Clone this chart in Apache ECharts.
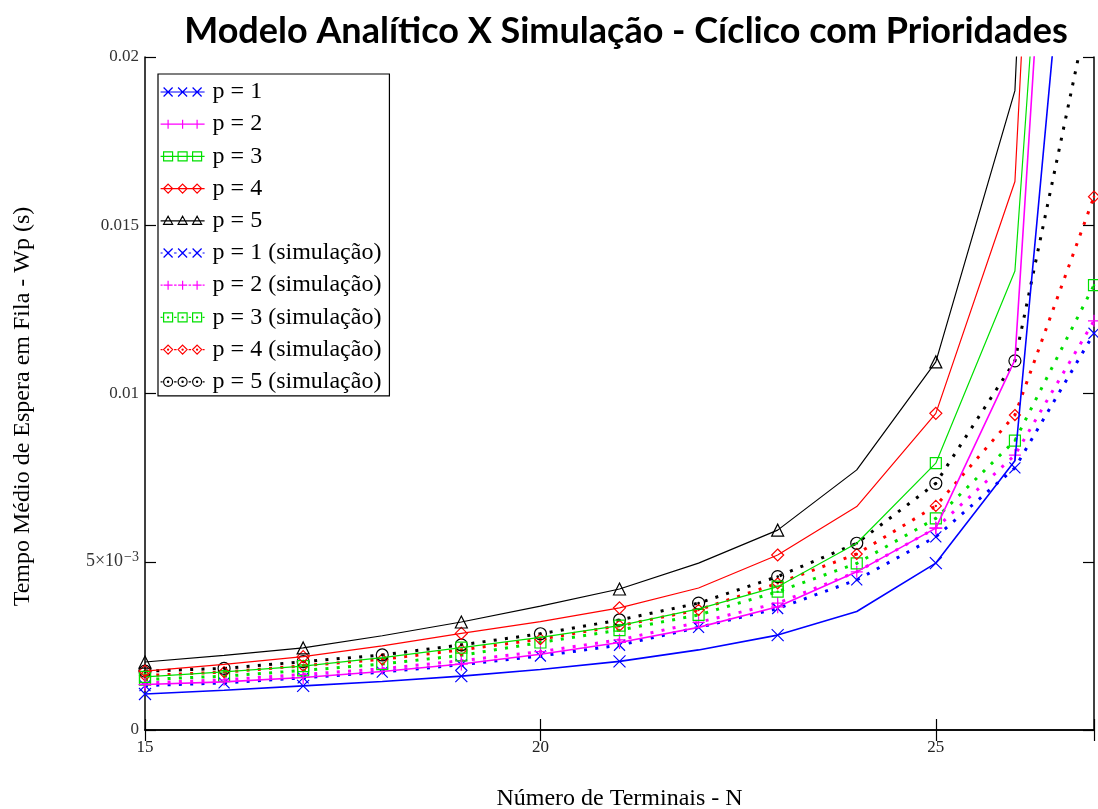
<!DOCTYPE html>
<html>
<head>
<meta charset="utf-8">
<script src="https://cdn.jsdelivr.net/npm/echarts@6/dist/echarts.min.js"></script>
<style>
html,body{margin:0;padding:0;background:#fff;overflow:hidden;}
#chart{width:1098px;height:809px;}
</style>
</head>
<body>
<div id="chart"></div>
<script>
// ---- data ----
const N = [15,16,17,18,19,20,21,22,23,24,25,26,27];
const xTicks = [15,20,25];
const yTicks = [0,0.005,0.01,0.015,0.02];

const analP1 = [0.00107,0.00118,0.00131,0.00144,0.00160,0.00180,0.00204,0.00238,0.00282,0.00352,0.00496,0.00800,0.0335];
const analP2 = [0.00135,0.00143,0.00156,0.00174,0.00196,0.00225,0.00260,0.00305,0.00366,0.00470,0.00600,0.01100,0.048];
const analP3 = [0.00158,0.00173,0.00190,0.00215,0.00245,0.00275,0.00310,0.00360,0.00426,0.00555,0.00793,0.01364,0.047];
const analP4 = [0.00175,0.00195,0.00218,0.00250,0.00287,0.00322,0.00363,0.00422,0.00520,0.00664,0.00941,0.01630,0.062];
const analP5 = [0.00202,0.00222,0.00244,0.00280,0.00321,0.00368,0.00419,0.00496,0.00594,0.00773,0.01094,0.01900,0.070];

const simP1 = [0.00132,0.00140,0.00155,0.00172,0.00194,0.00220,0.00252,0.00305,0.00361,0.00446,0.00574,0.00779,0.01179];
const simP2 = [0.00140,0.00149,0.00165,0.00182,0.00206,0.00233,0.00268,0.00320,0.00377,0.00470,0.00600,0.00817,0.01216];
const simP3 = [0.00150,0.00160,0.00177,0.00196,0.00222,0.00260,0.00297,0.00342,0.00411,0.00495,0.00629,0.00860,0.01322];
const simP4 = [0.00162,0.00172,0.00191,0.00210,0.00238,0.00270,0.00310,0.00357,0.00436,0.00523,0.00666,0.00936,0.01585];
const simP5 = [0.00175,0.00183,0.00203,0.00223,0.00253,0.00286,0.00327,0.00377,0.00456,0.00555,0.00733,0.01097,0.02220];

const names = ['p = 1','p = 2','p = 3','p = 4','p = 5',
  'p = 1 (simulação)','p = 2 (simulação)','p = 3 (simulação)','p = 4 (simulação)','p = 5 (simulação)'];
const colors = ['#0000ff','#ff00ff','#00e000','#ff0000','#000000'];

// ---- marker shapes (box of half-size h centred at cx,cy) ----
function shape(kind, cx, cy, h) {
  const l = cx - h, r = cx + h, t = cy - h, b = cy + h;
  switch (kind) {
    case 'x': return `M${l},${t}L${r},${b}M${r},${t}L${l},${b}`;
    case 'plus': return `M${cx},${t}L${cx},${b}M${l},${cy}L${r},${cy}`;
    case 'square': return `M${l},${t}L${r},${t}L${r},${b}L${l},${b}Z`;
    case 'diamond': return `M${cx},${t}L${r},${cy}L${cx},${b}L${l},${cy}Z`;
    case 'tri': return `M${cx},${t}L${r},${b - 1}L${l},${b - 1}Z`;
    case 'circle': return `M${r},${cy}A${h},${h},0,1,1,${l},${cy}A${h},${h},0,1,1,${r},${cy}Z`;
  }
}
function dotAt(cx, cy) { const d = 0.6; return `M${cx + d},${cy}A${d},${d},0,1,1,${cx - d},${cy}A${d},${d},0,1,1,${cx + d},${cy}Z`; }

const analKinds = ['x', 'plus', 'square', 'diamond', 'tri'];
const simKinds = ['x', 'plus', 'square', 'diamond', 'circle'];
const analSyms = analKinds.map(k => 'path://' + shape(k, 5, 5, 5));
const simSyms = simKinds.map(k => 'path://' + shape(k, 5, 5, 5) + (k === 'plus' ? '' : dotAt(5, 5)));
const analSizes = [12, 13, 11, 12, 12];
const simSizes = [11, 12, 11, 11, 12];

// legend icons: 44 x 12 box, three markers on a line
function analIcon(k) {
  let p = 'M0,6L44,6';
  [7.5, 22, 36.5].forEach(c => { p += shape(k, c, 6, 4.5); });
  return 'path://M0,0L0,0M44,12L44,12' + p;
}
function simIcon(k) {
  let p = '';
  [7.5, 22, 36.5].forEach(c => { p += shape(k, c, 6, 4.5) + (k === 'plus' ? '' : dotAt(c, 6)); });
  p += 'M0,6L2,6M13.5,6L16,6M28,6L30.5,6M42,6L44,6';
  return 'path://M0,0L0,0M44,12L44,12' + p;
}
const legendData = names.map((n, i) => ({
  name: n,
  icon: i < 5 ? analIcon(analKinds[i]) : simIcon(simKinds[i - 5]),
  itemStyle: { color: 'rgba(0,0,0,0)', borderColor: colors[i % 5], borderWidth: 1.2 }
}));

const analData = [analP1, analP2, analP3, analP4, analP5];
const simData = [simP1, simP2, simP3, simP4, simP5];
const series = [];
for (let i = 0; i < 5; i++) {
  series.push({
    name: names[i], type: 'line',
    data: N.map((n, k) => [n, analData[i][k]]),
    symbol: analSyms[i],
    symbolSize: (v, p) => (p && p.dataIndex !== undefined && p.dataIndex % 2 === 1) ? 0 : analSizes[i],
    showAllSymbol: true,
    itemStyle: { color: 'rgba(0,0,0,0)', borderColor: colors[i], borderWidth: 1.2 },
    lineStyle: { color: colors[i], width: i <= 1 ? 1.6 : 1.2 },
    emphasis: { disabled: true },
    animation: false, z: 3
  });
}
for (let i = 0; i < 5; i++) {
  series.push({
    name: names[i + 5], type: 'line',
    data: N.map((n, k) => [n, simData[i][k]]),
    symbol: simSyms[i], symbolSize: simSizes[i], showAllSymbol: true,
    itemStyle: { color: 'rgba(0,0,0,0)', borderColor: colors[i], borderWidth: 1.2 },
    lineStyle: { color: colors[i], width: 3, type: [3, 8.3] },
    emphasis: { disabled: true },
    animation: false, z: 2
  });
}

const serif = '"Liberation Serif", "DejaVu Serif", serif';
const chart = echarts.init(document.getElementById('chart'), null, { renderer: 'canvas', width: 1098, height: 809 });
chart.setOption({
  backgroundColor: '#fff',
  animation: false,
  title: {
    text: 'Modelo Analítico X Simulação - Cíclico com Prioridades',
    left: 621, top: 8, textAlign: 'center',
    textStyle: { fontFamily: 'Lato, "Open Sans", sans-serif', fontWeight: 'bold', fontSize: 36, color: '#000' }
  },
  legend: {
    orient: 'vertical', left: 158, top: 74,
    data: legendData,
    itemWidth: 44, itemHeight: 12, itemGap: 8.2,
    padding: [6, 8, 2, 2],
    borderColor: '#000', borderWidth: 1.2, backgroundColor: '#fff',
    textStyle: { fontFamily: serif, fontSize: 24, color: '#000', padding: [0, 0, 0, 3] },
    selectedMode: false
  },
  grid: { left: 145, top: 57, width: 949, height: 673, containLabel: false, outerBoundsMode: 'none' },
  xAxis: [{
    type: 'value', min: 15, max: 27, interval: 5,
    axisLine: { lineStyle: { color: '#000', width: 1.5 } },
    axisTick: { inside: true, length: 11, lineStyle: { color: '#000', width: 1.2 } },
    axisLabel: { fontFamily: serif, fontSize: 17, color: '#222', margin: 9,
      formatter: v => (xTicks.indexOf(v) >= 0 ? String(v) : '') },
    splitLine: { show: false },
    name: 'Número de Terminais - N', nameLocation: 'middle', nameGap: 57,
    nameTextStyle: { fontFamily: serif, fontSize: 24, color: '#000' }
  }, {
    type: 'value', min: 15, max: 27, interval: 5, position: 'top',
    axisLine: { lineStyle: { color: '#000', width: 1.5 } },
    axisTick: { inside: true, length: 11, lineStyle: { color: '#000', width: 1.2 } },
    axisLabel: { show: false }, splitLine: { show: false }
  }],
  yAxis: [{
    type: 'value', min: 0, max: 0.02, interval: 0.005,
    axisLine: { lineStyle: { color: '#000', width: 1.5 } },
    axisTick: { inside: true, length: 11, lineStyle: { color: '#000', width: 1.2 } },
    axisLabel: { fontFamily: serif, fontSize: 17, color: '#333', margin: 6,
      formatter: v => {
        if (yTicks.indexOf(v) < 0 && Math.abs(v) > 1e-12) return '';
        if (Math.abs(v) < 1e-12) return '0';
        if (Math.abs(v - 0.005) < 1e-9) return '{b|5×10}{sup|−3}';
        return String(Number(v.toFixed(4)));
      },
      rich: {
        b: { fontFamily: serif, fontSize: 18, color: '#333' },
        sup: { fontFamily: serif, fontSize: 14, color: '#333', verticalAlign: 'top', padding: [0, 0, 9, 1] }
      }
    },
    splitLine: { show: false },
    name: 'Tempo Médio de Espera em Fila - Wp (s)', nameLocation: 'middle', nameGap: 110, nameRotate: 90,
    nameTextStyle: { fontFamily: serif, fontSize: 24, color: '#000', padding: [0, 26, 0, 0] }
  }, {
    type: 'value', min: 0, max: 0.02, interval: 0.005, position: 'right',
    axisLine: { lineStyle: { color: '#000', width: 1.5 } },
    axisTick: { inside: true, length: 11, lineStyle: { color: '#000', width: 1.2 } },
    axisLabel: { show: false }, splitLine: { show: false }
  }],
  series: series
});
</script>
</body>
</html>
